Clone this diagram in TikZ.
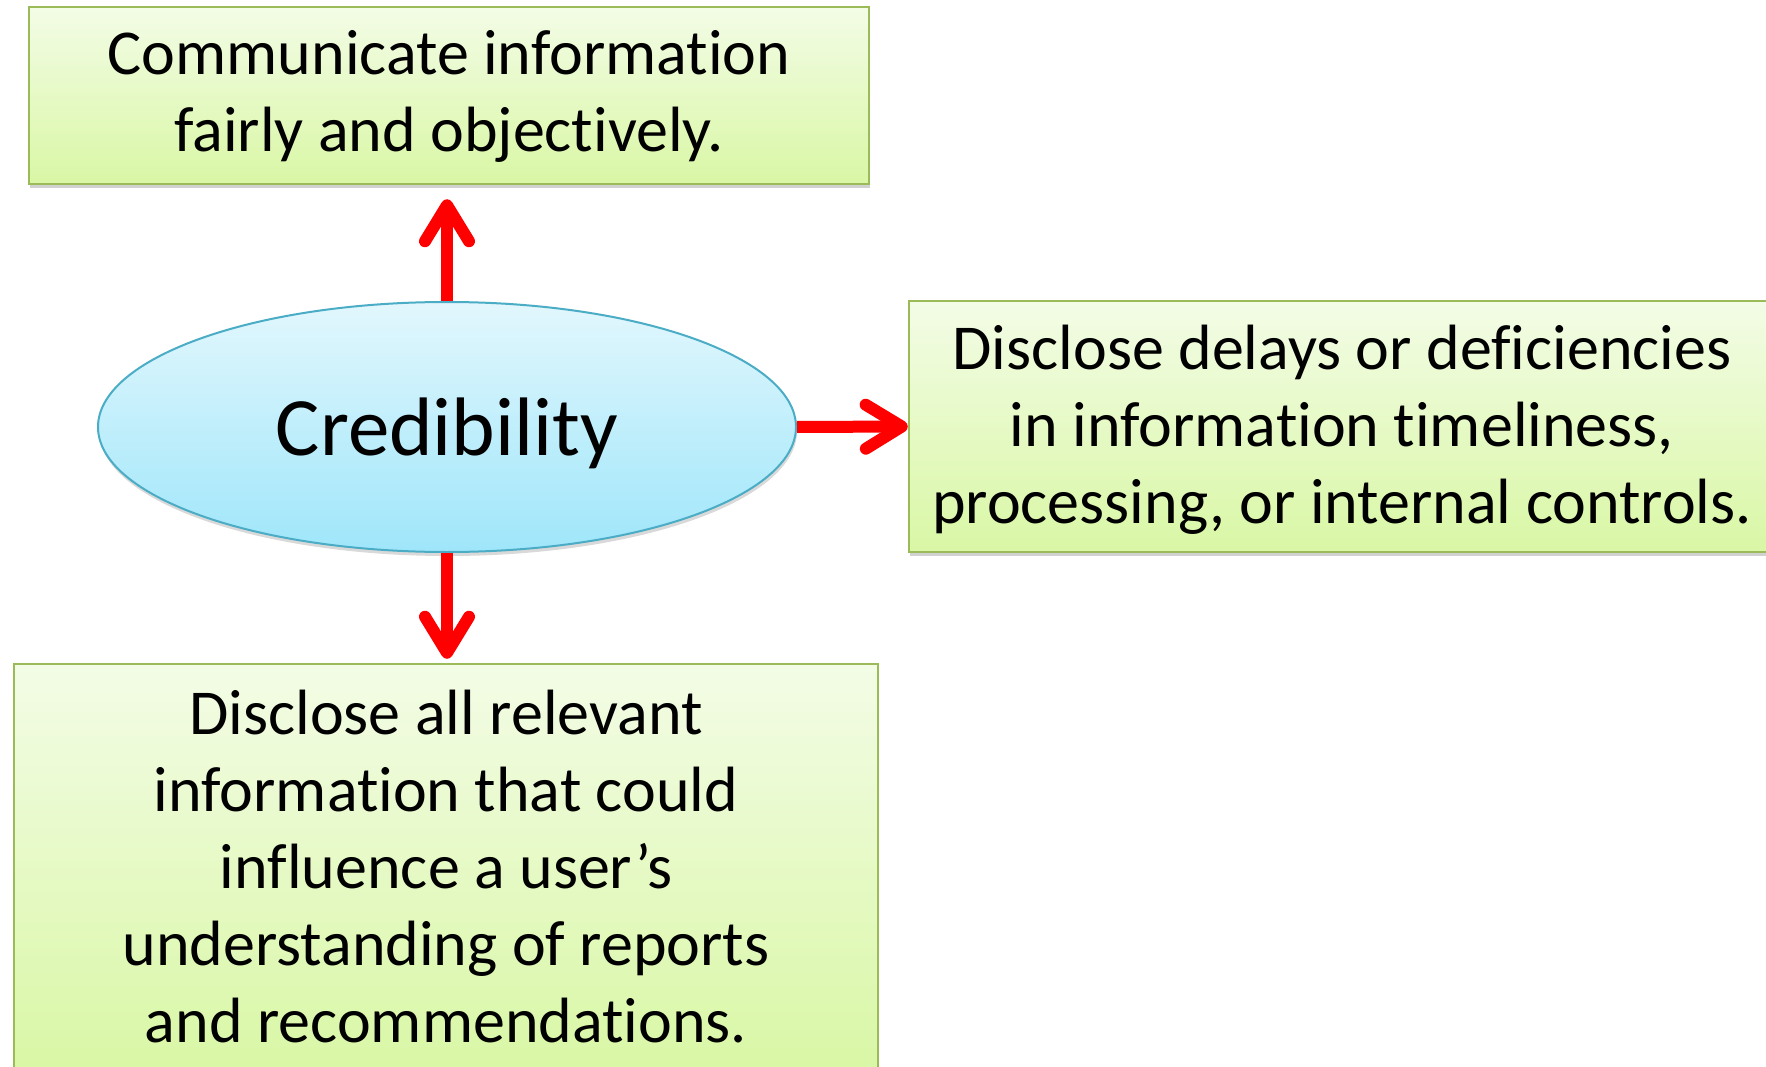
\documentclass[tikz,border=0pt]{standalone}
\usepackage{fontspec}
\setmainfont[Ligatures={NoCommon}]{Carlito}
\usetikzlibrary{shapes.geometric,arrows.meta,shadows}
\definecolor{boxtop}{HTML}{F3FCE6}
\definecolor{boxbot}{HTML}{D9F7A5}
\definecolor{boxline}{HTML}{9BBB59}
\definecolor{elltop}{HTML}{E2F7FD}
\definecolor{ellbot}{HTML}{9FE6FA}
\definecolor{ellline}{HTML}{4BACC6}
\begin{document}
\begin{tikzpicture}[x=1pt,y=-1pt,
  infobox/.style={draw=boxline, line width=2.5pt, top color=boxtop, bottom color=boxbot,
    inner sep=0pt, align=center, font=\fontsize{64}{77}\selectfont,
    drop shadow={shadow xshift=1pt, shadow yshift=-4pt, opacity=0.3, fill=black!60}},
  ellnode/.style={ellipse, draw=ellline, line width=2pt, top color=elltop, bottom color=ellbot,
    inner sep=0pt, minimum width=698pt, minimum height=250pt,
    font=\fontsize{83}{100}\selectfont,
    drop shadow={shadow xshift=1pt, shadow yshift=-4pt, opacity=0.25, fill=black!60}},
  redarrow/.style={draw=red, line width=12pt, -{Straight Barb[length=36pt, width=44pt, round]}}
]
\useasboundingbox (0,0) rectangle (1766,1067);
\node[infobox, minimum width=840pt, minimum height=177pt, text depth=9pt] (top) at (449,95.5)
  {Communicate information\\fairly and objectively.};
\node[infobox, minimum width=866pt, minimum height=251pt, text depth=4pt] (right) at (1342,426.5)
  {Disclose delays or deficiencies\\in information timeliness,\\processing, or internal controls.};
\node[infobox, minimum width=864pt, minimum height=406pt] (bot) at (446,867)
  {Disclose all relevant\\information that could\\influence a user’s\\understanding of reports\\and recommendations.};
\node[ellnode, text depth=0pt] (ell) at (447,427) {Credibility};
\draw[redarrow, shorten >=14pt] (ell.north) -- (ell.north |- top.south);
\draw[redarrow] (ell.east) -- (right.west);
\draw[redarrow, shorten >=4pt] (ell.south) -- (ell.south |- bot.north);
\end{tikzpicture}
\end{document}
